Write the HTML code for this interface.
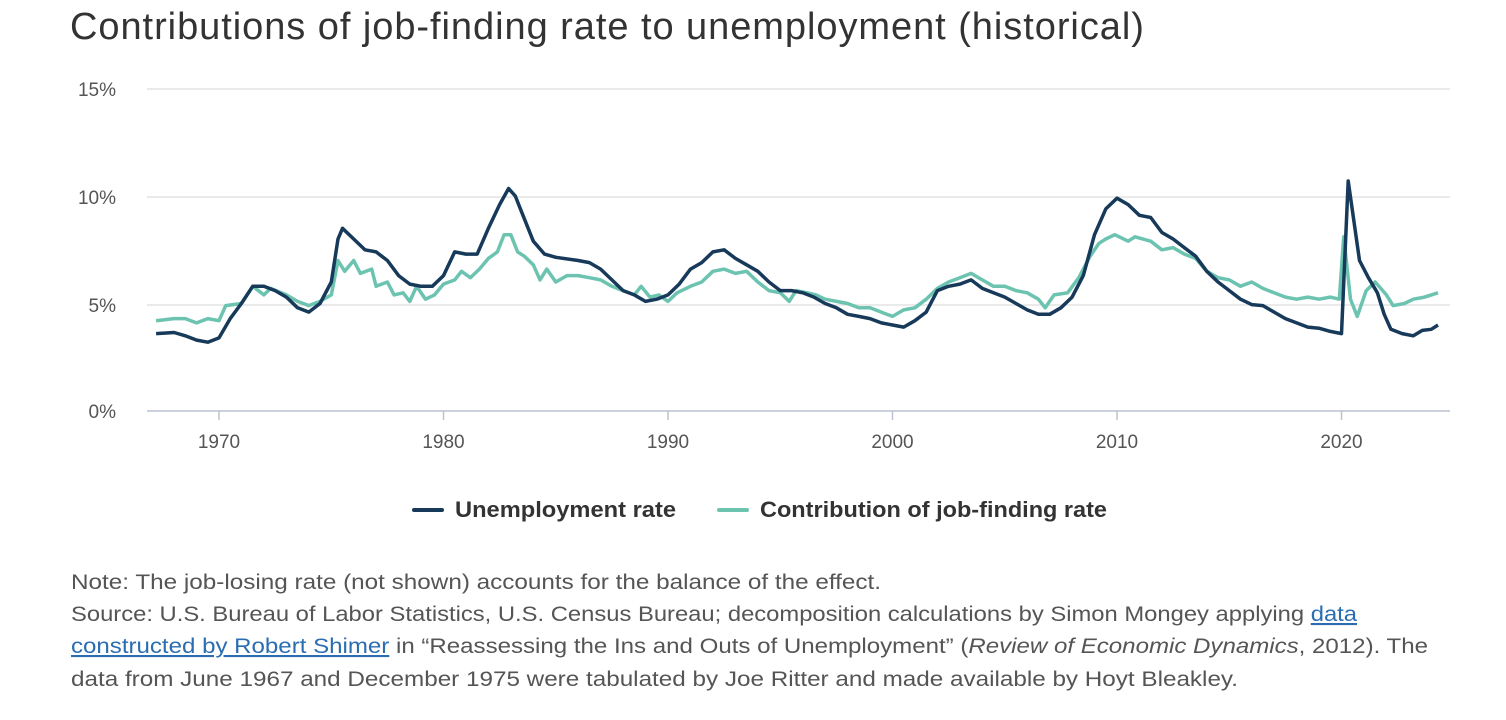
<!DOCTYPE html>
<html><head><meta charset="utf-8"><style>
body{margin:0;background:#fff;width:1506px;height:720px;overflow:hidden;font-family:"Liberation Sans",sans-serif;}
.t{position:absolute;left:70px;top:6px;font-size:38px;color:#333;letter-spacing:0.95px;white-space:nowrap}
</style></head><body>
<div class="t">Contributions of job-finding rate to unemployment (historical)</div>
<svg width="1506" height="720" style="position:absolute;left:0;top:0" font-family="Liberation Sans, sans-serif">
<g stroke="#e3e3e3" stroke-width="1.5">
<line x1="147" x2="1450" y1="89" y2="89"/><line x1="147" x2="1450" y1="197" y2="197"/><line x1="147" x2="1450" y1="305" y2="305"/>
</g>
<line x1="147" x2="1450" y1="411" y2="411" stroke="#b8c2d0" stroke-width="1.5"/>
<g fill="#555" font-size="19" text-anchor="end">
<text x="116" y="96">15%</text><text x="116" y="204">10%</text><text x="116" y="312">5%</text><text x="116" y="418">0%</text>
</g>
<g stroke="#b8c2d0" stroke-width="1.5" id="ticks"></g>
<g fill="#555" font-size="19" text-anchor="middle" id="xl"></g>
<polyline id="teal" fill="none" stroke="#6cc3b0" stroke-width="3.5" stroke-linejoin="round"/>
<polyline id="dark" fill="none" stroke="#173a5a" stroke-width="3.5" stroke-linejoin="round"/>
<line x1="414" x2="442" y1="510" y2="510" stroke="#173a5a" stroke-width="4" stroke-linecap="round"/>
<text x="455" y="517" font-size="22" font-weight="bold" fill="#333" textLength="221" lengthAdjust="spacingAndGlyphs">Unemployment rate</text>
<line x1="719" x2="747" y1="510" y2="510" stroke="#6cc3b0" stroke-width="4" stroke-linecap="round"/>
<text x="760" y="517" font-size="22" font-weight="bold" fill="#333" textLength="347" lengthAdjust="spacingAndGlyphs">Contribution of job-finding rate</text>
<g font-size="21" fill="#555">
<text x="71" y="589" textLength="810" lengthAdjust="spacingAndGlyphs">Note: The job-losing rate (not shown) accounts for the balance of the effect.</text>
<text x="71" y="621" textLength="1286" lengthAdjust="spacingAndGlyphs">Source: U.S. Bureau of Labor Statistics, U.S. Census Bureau; decomposition calculations by Simon Mongey applying <tspan fill="#2a6db0" text-decoration="underline">data</tspan></text>
<text x="71" y="653" textLength="1357" lengthAdjust="spacingAndGlyphs"><tspan fill="#2a6db0" text-decoration="underline">constructed by Robert Shimer</tspan> in “Reassessing the Ins and Outs of Unemployment” (<tspan font-style="italic">Review of Economic Dynamics</tspan>, 2012). The</text>
<text x="71" y="686" textLength="1167" lengthAdjust="spacingAndGlyphs">data from June 1967 and December 1975 were tabulated by Joe Ritter and made available by Hoyt Bleakley.</text>
</g>
</svg>
<script>
function X(y){return 219+(y-1970)*22.45}
function Y(v){return 411-v*21.5}
var tk='',xl='';
for(var y=1970;y<=2020;y+=10){var x=X(y);tk+='<line x1="'+x+'" x2="'+x+'" y1="411" y2="420"/>';xl+='<text x="'+x+'" y="448">'+y+'</text>';}
document.getElementById('ticks').innerHTML=tk;document.getElementById('xl').innerHTML=xl;
var d=[1967.2,3.6,1968,3.65,1968.5,3.5,1969,3.3,1969.5,3.2,1970,3.4,1970.5,4.3,1971,5.0,1971.5,5.8,1972,5.8,1972.5,5.6,1973,5.3,1973.5,4.8,1974,4.6,1974.5,5.0,1975,6.0,1975.3,8.0,1975.5,8.5,1976,8.0,1976.5,7.5,1977,7.4,1977.5,7.0,1978,6.3,1978.5,5.9,1979,5.8,1979.5,5.8,1980,6.3,1980.5,7.4,1981,7.3,1981.5,7.3,1982,8.5,1982.5,9.6,1982.9,10.35,1983.2,10.0,1983.5,9.2,1984,7.9,1984.5,7.3,1985,7.15,1986,7.0,1986.5,6.9,1987,6.6,1987.5,6.1,1988,5.6,1988.5,5.4,1989,5.1,1989.5,5.2,1990,5.4,1990.5,5.9,1991,6.6,1991.5,6.9,1992,7.4,1992.5,7.5,1993,7.1,1993.5,6.8,1994,6.5,1994.5,6.0,1995,5.6,1995.5,5.6,1996,5.5,1996.5,5.3,1997,5.0,1997.5,4.8,1998,4.5,1998.5,4.4,1999,4.3,1999.5,4.1,2000,4.0,2000.5,3.9,2001,4.2,2001.5,4.6,2002,5.6,2002.5,5.8,2003,5.9,2003.5,6.1,2004,5.7,2004.5,5.5,2005,5.3,2005.5,5.0,2006,4.7,2006.5,4.5,2007,4.5,2007.5,4.8,2008,5.3,2008.5,6.3,2009,8.2,2009.5,9.4,2010,9.9,2010.5,9.6,2011,9.1,2011.5,9.0,2012,8.3,2012.5,8.0,2013,7.6,2013.5,7.2,2014,6.5,2014.5,6.0,2015,5.6,2015.5,5.2,2016,4.95,2016.5,4.9,2017,4.6,2017.5,4.3,2018,4.1,2018.5,3.9,2019,3.85,2019.5,3.7,2020,3.6,2020.3,10.7,2020.8,7.0,2021.2,6.2,2021.6,5.5,2021.9,4.5,2022.2,3.8,2022.7,3.6,2023.2,3.5,2023.6,3.75,2024,3.8,2024.3,4.0];
var t=[1967.2,4.2,1968,4.3,1968.5,4.3,1969,4.1,1969.5,4.3,1970,4.2,1970.3,4.9,1971,5.0,1971.5,5.8,1972,5.4,1972.3,5.7,1973,5.4,1973.5,5.1,1974,4.9,1974.5,5.1,1975,5.4,1975.3,7.0,1975.6,6.5,1976,7.0,1976.3,6.4,1976.8,6.6,1977,5.8,1977.5,6.0,1977.8,5.4,1978.2,5.5,1978.5,5.1,1978.8,5.8,1979.2,5.2,1979.6,5.4,1980,5.9,1980.5,6.1,1980.8,6.5,1981.2,6.2,1981.6,6.6,1982,7.1,1982.4,7.4,1982.7,8.2,1983,8.2,1983.3,7.4,1983.6,7.2,1984,6.8,1984.3,6.1,1984.6,6.6,1985,6.0,1985.5,6.3,1986,6.3,1986.5,6.2,1987,6.1,1987.5,5.8,1988,5.6,1988.5,5.4,1988.8,5.8,1989.2,5.3,1989.6,5.4,1990,5.1,1990.4,5.5,1991,5.8,1991.5,6.0,1992,6.5,1992.5,6.6,1993,6.4,1993.5,6.5,1994,6.0,1994.5,5.6,1995,5.5,1995.4,5.1,1995.7,5.6,1996.2,5.5,1996.6,5.4,1997,5.2,1997.5,5.1,1998,5.0,1998.5,4.8,1999,4.8,1999.5,4.6,2000,4.4,2000.5,4.7,2001,4.8,2001.5,5.2,2002,5.7,2002.5,6.0,2003,6.2,2003.5,6.4,2004,6.1,2004.5,5.8,2005,5.8,2005.5,5.6,2006,5.5,2006.5,5.2,2006.8,4.8,2007.2,5.4,2007.8,5.5,2008.3,6.2,2008.8,7.2,2009.2,7.8,2009.5,8.0,2009.9,8.2,2010.5,7.9,2010.8,8.1,2011.5,7.9,2012,7.5,2012.5,7.6,2013,7.3,2013.5,7.1,2014,6.5,2014.5,6.2,2015,6.1,2015.5,5.8,2016,6.0,2016.5,5.7,2017,5.5,2017.5,5.3,2018,5.2,2018.5,5.3,2019,5.2,2019.5,5.3,2019.9,5.2,2020.1,8.1,2020.4,5.2,2020.7,4.4,2021.1,5.6,2021.5,6.0,2022,5.4,2022.3,4.9,2022.8,5.0,2023.2,5.2,2023.7,5.3,2024,5.4,2024.3,5.5];
function P(a){var s='';for(var i=0;i<a.length;i+=2)s+=X(a[i]).toFixed(1)+','+Y(a[i+1]).toFixed(1)+' ';return s}
document.getElementById('dark').setAttribute('points',P(d));
document.getElementById('teal').setAttribute('points',P(t));
</script>
</body></html>
